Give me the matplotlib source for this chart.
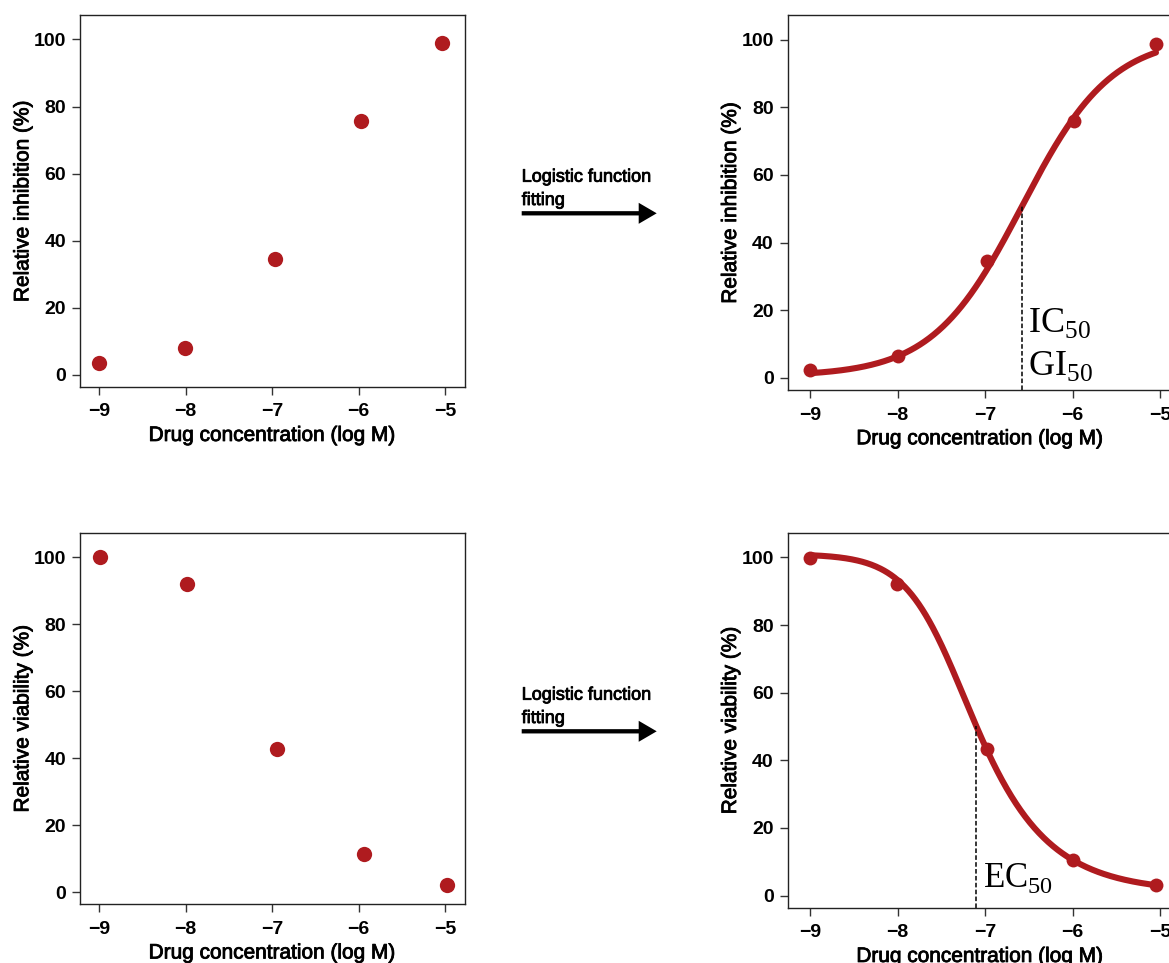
import numpy as np
import matplotlib.pyplot as plt
import matplotlib.patheffects as pe
from matplotlib.patches import FancyArrow

plt.rcParams['font.family'] = 'Liberation Sans'
plt.rcParams['mathtext.fontset'] = 'custom'
plt.rcParams['mathtext.rm'] = 'Liberation Serif'

# measured responses, x = log10 of molar concentration
inh_raw_x = [-9.0, -8.01, -6.97, -5.97, -5.04]
inh_raw_y = [3.6, 8.0, 34.4, 75.7, 99.0]

via_raw_x = [-8.99, -7.98, -6.94, -5.94, -4.98]
via_raw_y = [100.0, 91.9, 42.6, 11.3, 2.0]

inh_fit_x = [-9.0, -8.0, -6.98, -5.99, -5.05]
inh_fit_y = [2.3, 6.4, 34.5, 76.1, 98.8]

via_fit_x = [-9.0, -8.01, -6.98, -6.0, -5.05]
via_fit_y = [99.9, 92.2, 43.2, 10.5, 3.2]

# logistic fit parameters: bottom, top, midpoint, hill slope, asymmetry
inh_params = (0.5, 101.0, -6.58, 0.85, 1.0)
via_params = (1.0, 101.0, -7.457, -1.4, 0.5)
ic50 = -6.58
ec50 = -7.10

xticks = [-9, -8, -7, -6, -5]
yticks = [0, 20, 40, 60, 80, 100]
red = '#AF1B1F'
ylo, yhi = -3.6, 107.3
heavy = [pe.withStroke(linewidth=0.6, foreground='black')]


def logistic(x, bottom, top, mid, hill, s):
    x = np.asarray(x, dtype=float)
    return bottom + (top - bottom) / (1 + 10 ** ((mid - x) * hill)) ** s


def setup(ax, ylabel, xlim):
    ax.set_xlim(*xlim)
    ax.set_ylim(ylo, yhi)
    ax.set_xticks(xticks)
    ax.set_yticks(yticks)
    ax.set_xticklabels(['\u2212%d' % abs(t) for t in xticks])
    for sp in ax.spines.values():
        sp.set_linewidth(1.0)
        sp.set_color('#222222')
    ax.tick_params(length=6, width=1.0, color='#333333', labelsize=14, pad=4)
    ax.tick_params(axis='x', pad=6)
    for lab in ax.get_xticklabels() + ax.get_yticklabels():
        lab.set_fontweight('bold')
    ax.set_xlabel('Drug concentration (log M)', fontsize=15, labelpad=4,
                  path_effects=heavy)
    ax.set_ylabel(ylabel, fontsize=15, labelpad=1, path_effects=heavy)


fig = plt.figure(figsize=(11.69, 9.63), dpi=100)

ax1 = fig.add_axes([0.0684, 0.5984, 0.3293, 0.3860])
ax2 = fig.add_axes([0.6738, 0.5950, 0.3293, 0.3894])
ax3 = fig.add_axes([0.0684, 0.0610, 0.3293, 0.3859])
ax4 = fig.add_axes([0.6738, 0.0574, 0.3293, 0.3894])

left_xlim = (-9.219, -4.773)
right_xlim = (-9.255, -4.86)

# raw data
ax1.plot(inh_raw_x, inh_raw_y, 'o', color=red, ms=11, mec='none')
setup(ax1, 'Relative inhibition (%)', left_xlim)

ax3.plot(via_raw_x, via_raw_y, 'o', color=red, ms=11, mec='none')
setup(ax3, 'Relative viability (%)', left_xlim)

# fitted curves
xs = np.linspace(-9.0, -5.05, 300)

ax2.plot(xs, logistic(xs, *inh_params), color=red, lw=4.4, solid_capstyle='round')
ax2.plot(inh_fit_x, inh_fit_y, 'o', color=red, ms=10, mec='none')
ax2.vlines(ic50, ylo, logistic(ic50, *inh_params), colors='black',
           linestyles=(0, (3, 1.5)), lw=1.1)
ax2.text(ic50 + 0.07, 13.5, r'IC$_{\mathrm{50}}$', fontsize=26,
         family='Liberation Serif', va='baseline', ha='left')
ax2.text(ic50 + 0.07, 0.8, r'GI$_{\mathrm{50}}$', fontsize=26,
         family='Liberation Serif', va='baseline', ha='left')
setup(ax2, 'Relative inhibition (%)', right_xlim)

ax4.plot(xs, logistic(xs, *via_params), color=red, lw=4.4, solid_capstyle='round')
ax4.plot(via_fit_x, via_fit_y, 'o', color=red, ms=10, mec='none')
ax4.vlines(ec50, ylo, logistic(ec50, *via_params), colors='black',
           linestyles=(0, (3, 1.5)), lw=1.1)
ax4.text(ec50 + 0.08, 2.5, r'EC$_{\mathrm{50}}$', fontsize=25,
         family='Liberation Serif', va='baseline', ha='left')
setup(ax4, 'Relative viability (%)', right_xlim)

# arrows between the raw and fitted panels (positions in inches)
for y_top in (1.817, 6.997):
    fig.text(5.217 / 11.69, 1 - y_top / 9.63, 'Logistic function',
             fontsize=13, va='baseline', ha='left', path_effects=heavy)
    fig.text(5.217 / 11.69, 1 - (y_top + 0.233) / 9.63, 'fitting',
             fontsize=13, va='baseline', ha='left', path_effects=heavy)
    y_arrow = 9.63 - (y_top + 0.316)
    fig.add_artist(FancyArrow(5.217, y_arrow, 1.35, 0, width=0.043,
                              head_width=0.21, head_length=0.18,
                              length_includes_head=True, color='black',
                              lw=0, transform=fig.dpi_scale_trans))

fig.savefig('out.png', dpi=100)
